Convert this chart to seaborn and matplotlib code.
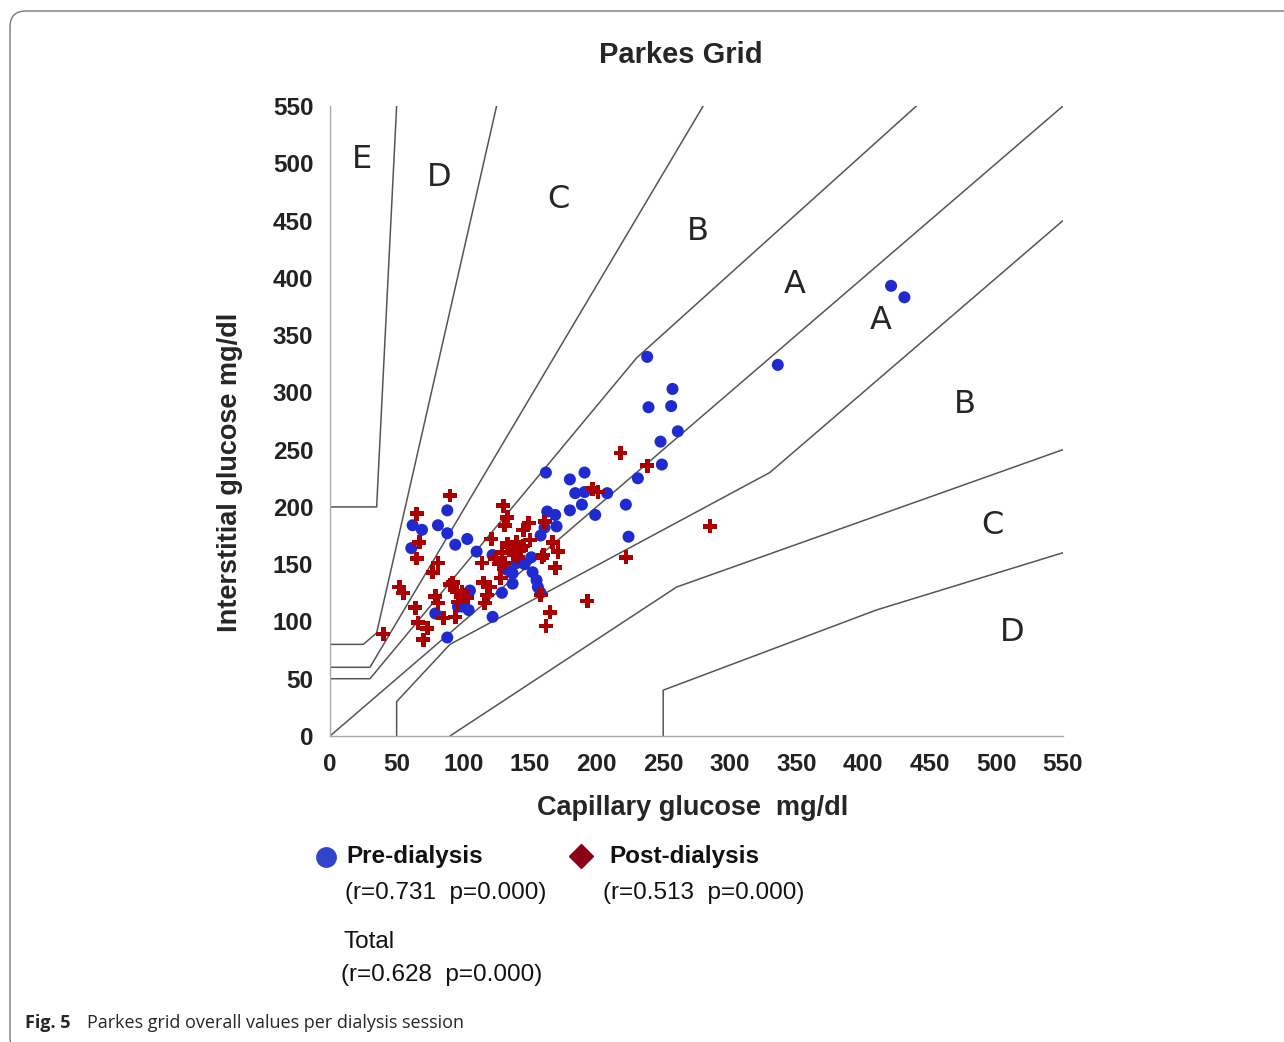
import matplotlib
matplotlib.use("Agg")
import matplotlib.pyplot as plt
import seaborn as sns
import pandas as pd
from matplotlib.lines import Line2D
from matplotlib.patches import FancyBboxPatch
from matplotlib.transforms import IdentityTransform

# Pre-dialysis readings (capillary, interstitial) mg/dl
pre_x = [421, 431, 336, 238, 257, 239, 256, 261, 248, 249, 231, 222, 224, 162, 180,
         191, 184, 191, 208, 189, 180, 199, 163, 169, 170, 161, 88, 62, 69, 81,
         88, 103, 94, 61, 110, 105, 99, 104, 79, 88, 158, 140, 151, 122, 133,
         137, 152, 155, 156, 137, 129, 122, 158, 146, 143, 96]
pre_y = [393, 383, 324, 331, 303, 287, 288, 266, 257, 237, 225, 202, 174, 230, 224,
         230, 212, 213, 212, 202, 197, 193, 196, 193, 183, 182, 197, 184, 180, 184,
         177, 172, 167, 164, 161, 127, 113, 110, 107, 86, 175, 151, 156, 158, 145,
         142, 143, 136, 130, 133, 125, 104, 125, 150, 165, 113]

# Post-dialysis readings
post_x = [285, 218, 238, 197, 201, 222, 193, 169, 167, 171, 161, 160, 165, 162, 158,
          90, 65, 67, 65, 81, 77, 52, 55, 90, 95, 100, 79, 81, 64, 85,
          94, 66, 73, 70, 40, 130, 133, 131, 149, 145, 121, 140, 150, 137, 129,
          124, 131, 141, 159, 114, 128, 120, 115, 118, 116, 92, 99, 103, 96, 135,
          138, 133, 143, 127, 145]
post_y = [183, 247, 236, 216, 213, 156, 118, 147, 169, 161, 187, 158, 108, 96, 123,
          210, 194, 169, 155, 151, 143, 130, 125, 132, 126, 123, 122, 116, 112, 103,
          104, 99, 94, 84, 89, 201, 191, 184, 186, 180, 172, 169, 171, 162, 160,
          155, 151, 156, 156, 151, 138, 130, 134, 123, 116, 134, 126, 121, 117, 165,
          158, 168, 163, 150, 166]

# Parkes grid (type 2) zone boundaries
grid_lines = [
    ([0, 35, 50], [200, 200, 550]),
    ([0, 25, 35, 125], [80, 80, 90, 550]),
    ([0, 30, 280], [60, 60, 550]),
    ([0, 30, 230, 440], [50, 50, 330, 550]),
    ([0, 550], [0, 550]),
    ([50, 50, 90, 330, 550], [0, 30, 80, 230, 450]),
    ([90, 260, 550], [0, 130, 250]),
    ([250, 250, 410, 550], [0, 40, 110, 160]),
]
zone_labels = ["E", "D", "C", "B", "A", "A", "B", "C", "D"]
zone_x = [24, 82, 171, 276, 349, 413, 476, 497, 512]
zone_y = [503, 488, 468, 440, 394, 363, 289, 184, 90]

ticks = list(range(0, 551, 50))

sns.set_style("white")
plt.rcParams['font.family'] = ['Liberation Sans', 'DejaVu Sans']

fig = plt.figure(figsize=(12.84, 10.42), dpi=100)
ax = fig.add_axes([330 / 1284, 1 - 736 / 1042, 733 / 1284, 630 / 1042])

for gx, gy in grid_lines:
    ax.plot(gx, gy, color="#555555", lw=1.1, zorder=1)

df_pre = pd.DataFrame({"x": pre_x, "y": pre_y})
df_post = pd.DataFrame({"x": post_x, "y": post_y})
sns.scatterplot(data=df_pre, x="x", y="y", ax=ax, color="#1f2ad0", s=75,
                edgecolor="none", zorder=3, legend=False)
sns.scatterplot(data=df_post, x="x", y="y", ax=ax, color="#aa0000", marker="P", s=100,
                edgecolor="none", zorder=4, legend=False)

for lab, zx, zy in zip(zone_labels, zone_x, zone_y):
    ax.text(zx, zy, lab, fontsize=23, family="DejaVu Sans", ha="center", va="center")

ax.set_xlim(0, 550)
ax.set_ylim(0, 550)
ax.set_xticks(ticks)
ax.set_yticks(ticks)
ax.tick_params(length=0, labelsize=17.5, pad=12)
for lbl in ax.get_xticklabels() + ax.get_yticklabels():
    lbl.set_fontweight("bold")
    lbl.set_color("#222222")
for side in ["top", "right"]:
    ax.spines[side].set_visible(False)
for side in ["left", "bottom"]:
    ax.spines[side].set_color("#aaaaaa")
    ax.spines[side].set_linewidth(1.0)

ax.set_xlabel("Capillary glucose  mg/dl", fontsize=19.5, fontweight="bold")
ax.set_ylabel("Interstitial glucose mg/dl", fontsize=19.5, fontweight="bold")
ax.xaxis.set_label_coords((693 - 330) / 733, -(808 - 736) / 630)
ax.yaxis.set_label_coords(-(330 - 230) / 733, (736 - 472) / 630)
ax.xaxis.label.set_va("center")
ax.yaxis.label.set_va("center")
fig.text(681 / 1284, 1 - 55 / 1042, "Parkes Grid", fontsize=21, fontweight="bold",
         ha="center", va="center")

# legend block
fig.add_artist(Line2D([326 / 1284], [1 - 857 / 1042], marker="o", color="#3344cc",
                      markersize=14, linestyle="none", transform=fig.transFigure))
fig.add_artist(Line2D([581 / 1284], [1 - 856 / 1042], marker="D", color="#8b0016",
                      markersize=12, linestyle="none", transform=fig.transFigure))
fig.text(346 / 1284, 1 - 856 / 1042, "Pre-dialysis", fontsize=17.5, fontweight="bold",
         va="center", color="#111111")
fig.text(609 / 1284, 1 - 856 / 1042, "Post-dialysis", fontsize=17.5, fontweight="bold",
         va="center", color="#111111")
fig.text(345 / 1284, 1 - 893 / 1042, "(r=0.731  p=0.000)", fontsize=17.5,
         va="center", color="#111111")
fig.text(603 / 1284, 1 - 893 / 1042, "(r=0.513  p=0.000)", fontsize=17.5,
         va="center", color="#111111")
fig.text(343 / 1284, 1 - 942 / 1042, "Total", fontsize=17.5, va="center", color="#111111")
fig.text(341 / 1284, 1 - 975 / 1042, "(r=0.628  p=0.000)", fontsize=17.5,
         va="center", color="#111111")

# caption and frame
fig.text(25 / 1284, 1 - 1023 / 1042, "Fig. 5", fontsize=13, fontweight="bold",
         family="Open Sans", va="center")
fig.text(87 / 1284, 1 - 1023 / 1042, "Parkes grid overall values per dialysis session",
         fontsize=13, family="Open Sans", va="center")
frame = FancyBboxPatch((10, -12), 1300, 1043, boxstyle="round,pad=0,rounding_size=16",
                       transform=IdentityTransform(), fill=False, edgecolor="#777777",
                       linewidth=1.0)
fig.add_artist(frame)

fig.savefig("out.png", dpi=100)
